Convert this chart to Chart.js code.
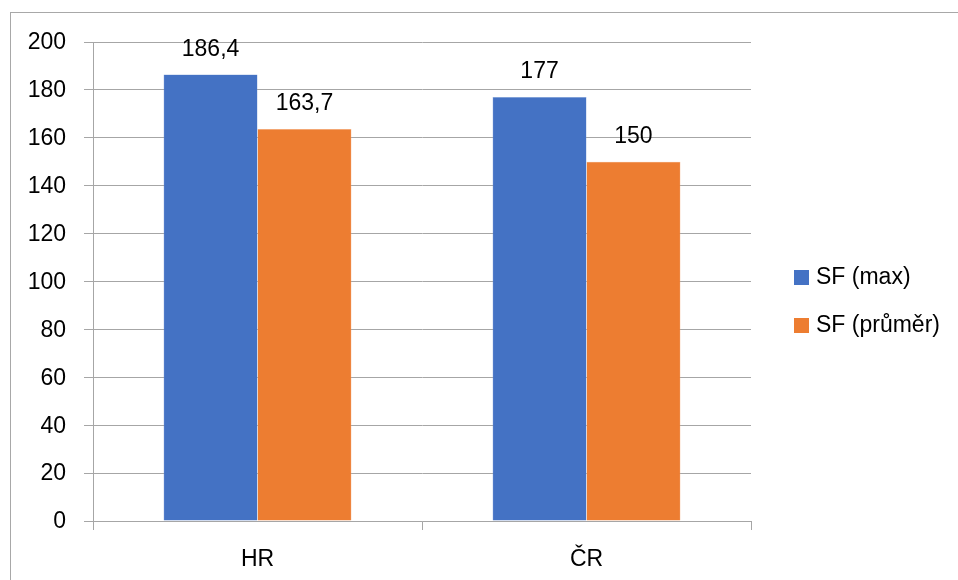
<!DOCTYPE html>
<html>
<head>
<meta charset="utf-8">
<script src="https://cdn.jsdelivr.net/npm/chart.js@4"></script>
<style>
    html, body { margin: 0; padding: 0; background: #fff; overflow: hidden; }
    #frame {
        position: absolute; left: 10px; top: 12px;
        width: 1000px; height: 700px;
        border: 1px solid #a8a8a8;
    }
    #chart { position: absolute; left: 0; top: 0; }
</style>
</head>
<body>
<div id="frame"></div>
<canvas id="chart" width="958" height="580"></canvas>
<script>
// Data
const categories = ['HR', 'ČR'];
const seriesNames = ['SF (max)', 'SF (průměr)'];
const sfMax = [186.4, 177];
const sfAvg = [163.7, 150];
const yTicks = [0, 20, 40, 60, 80, 100, 120, 140, 160, 180, 200];

const FONT = '"Liberation Sans", Arial, sans-serif';
const gridColor = '#a6a6a6';

// Czech number format: decimal comma
function fmt(v) {
    return String(v).replace('.', ',');
}

// Value labels above the bars
const barLabels = {
    id: 'barLabels',
    afterDatasetsDraw(chart) {
        const ctx = chart.ctx;
        ctx.save();
        ctx.font = '23px ' + FONT;
        ctx.fillStyle = '#000';
        ctx.textAlign = 'center';
        ctx.textBaseline = 'alphabetic';
        chart.data.datasets.forEach((ds, i) => {
            chart.getDatasetMeta(i).data.forEach((bar, j) => {
                ctx.fillText(fmt(ds.data[j]), bar.x, bar.y - 19);
            });
        });
        ctx.restore();
    }
};

// Legend on the right, drawn by hand to place it like the original
const sideLegend = {
    id: 'sideLegend',
    afterDraw(chart) {
        const ctx = chart.ctx;
        ctx.save();
        ctx.font = '23px ' + FONT;
        ctx.textBaseline = 'middle';
        chart.data.datasets.forEach((ds, i) => {
            const cy = 277 + i * 48;
            ctx.fillStyle = ds.backgroundColor;
            ctx.fillRect(794, cy - 7, 15, 15);
            ctx.fillStyle = '#000';
            ctx.fillText(ds.label, 816, cy + 1);
        });
        ctx.restore();
    }
};

new Chart(document.getElementById('chart'), {
    type: 'bar',
    data: {
        labels: categories,
        datasets: [
            {
                label: seriesNames[0],
                data: sfMax,
                backgroundColor: '#4472c4',
                borderColor: '#7f9fd8',
                borderWidth: 0.5
            },
            {
                label: seriesNames[1],
                data: sfAvg,
                backgroundColor: '#ed7d31',
                borderColor: '#f3a774',
                borderWidth: 0.5
            }
        ]
    },
    options: {
        responsive: false,
        animation: false,
        layout: { padding: { left: 0, top: 42, right: 207, bottom: 0 } },
        categoryPercentage: 0.571,
        barPercentage: 1,
        plugins: {
            legend: { display: false },
            tooltip: { enabled: false }
        },
        scales: {
            x: {
                afterFit(s) { s.height = 59; },
                grid: {
                    drawOnChartArea: false,
                    drawTicks: true,
                    tickLength: 9,
                    color: gridColor,
                    offset: true
                },
                border: { color: gridColor, width: 1 },
                ticks: {
                    color: '#000',
                    font: { family: FONT, size: 23 },
                    padding: 16
                }
            },
            y: {
                min: 0,
                max: 200,
                afterFit(s) { s.width = 93; },
                afterBuildTicks(s) { s.ticks = yTicks.map(v => ({ value: v })); },
                grid: {
                    color: gridColor,
                    tickLength: 9
                },
                border: { color: gridColor, width: 1 },
                ticks: {
                    color: '#000',
                    font: { family: FONT, size: 23 },
                    padding: 18,
                    labelOffset: 1
                }
            }
        }
    },
    plugins: [barLabels, sideLegend]
});
</script>
</body>
</html>
